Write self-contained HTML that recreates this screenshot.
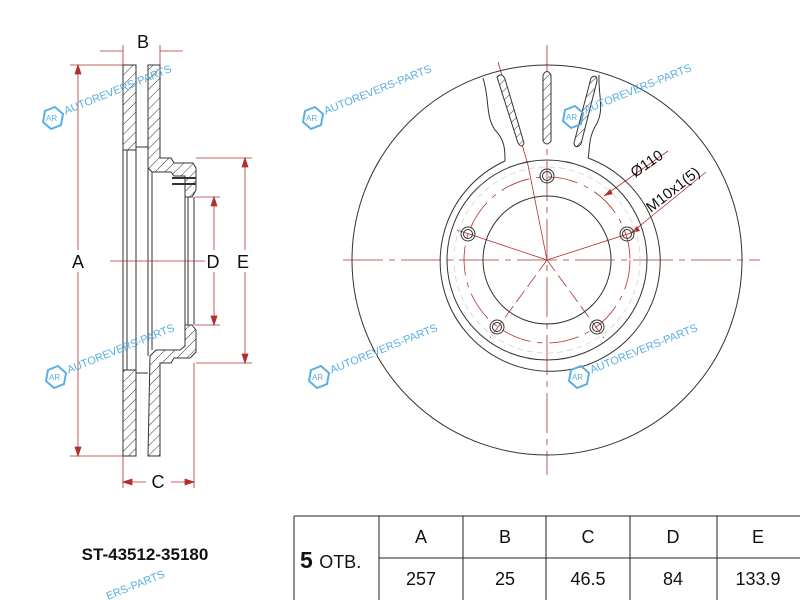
<!DOCTYPE html>
<html><head><meta charset="utf-8"><style>
html,body{margin:0;padding:0;background:#fff;}
svg{display:block;}
</style></head><body>
<svg width="800" height="600" viewBox="0 0 800 600" xmlns="http://www.w3.org/2000/svg" font-family="Liberation Sans, sans-serif">
<defs>
<pattern id="h" width="7" height="7" patternUnits="userSpaceOnUse" patternTransform="rotate(45)">
<rect width="7" height="7" fill="#fff"/><line x1="0" y1="0" x2="0" y2="7" stroke="#333" stroke-width="1"/>
</pattern>
<g id="wm">
<polygon points="-7,-7 3,-11 11,-4 9,7 -1,11 -9,4" fill="none" stroke="#5aaee0" stroke-width="2"/>
<text x="-6" y="3" font-size="8" fill="#5aaee0">AR</text>
<text x="14" y="2" font-size="11" fill="#5aaee0" transform="rotate(-22)">AUTOREVERS-PARTS</text>
</g>
</defs>

<!-- SIDE VIEW -->
<g stroke="#333" stroke-width="1" fill="none">
<rect x="123" y="65" width="13" height="85" fill="url(#h)"/>
<rect x="123" y="370" width="13" height="86" fill="url(#h)"/>
<line x1="123" y1="150" x2="123" y2="370"/>
<line x1="127" y1="150" x2="127" y2="370"/>
<line x1="136" y1="150" x2="136" y2="370"/>
<line x1="136" y1="147" x2="148" y2="147"/>
<line x1="136" y1="373" x2="148" y2="373"/>
<path d="M148,65 H160 V158 H171 L174,163 H193 L196,168 V190 L192,197 H185 V176 L174,176 L171,172 H152 L148,168 Z" fill="url(#h)"/>
<line x1="172" y1="178" x2="196" y2="178" stroke-width="2"/>
<line x1="172" y1="184" x2="196" y2="184" stroke-width="2"/>
<path d="M148,456 H160 V363 H171 L174,358 H190 L196,352 V330 L192,325 H185 V346 L180,350 H156 L150,356 Z" fill="url(#h)"/>
<line x1="148" y1="168" x2="148" y2="356"/>
<line x1="152" y1="172" x2="152" y2="350"/>
<line x1="185" y1="197" x2="185" y2="325"/>
<line x1="188" y1="197" x2="188" y2="325"/>
<line x1="194" y1="197" x2="194" y2="325"/>
</g>
<g stroke="#b03030" stroke-width="0.8" fill="#b03030">
<line x1="110" y1="261" x2="205" y2="261"/>
<line x1="100" y1="51" x2="123" y2="51"/><line x1="160" y1="51" x2="183" y2="51"/>
<line x1="123" y1="45" x2="123" y2="65"/><line x1="160" y1="45" x2="160" y2="65"/>
<line x1="70" y1="65" x2="123" y2="65"/><line x1="70" y1="456" x2="123" y2="456"/>
<line x1="78" y1="65" x2="78" y2="250"/><line x1="78" y1="272" x2="78" y2="456"/>
<polygon points="78,65 75,74 81,74"/><polygon points="78,456 75,447 81,447"/>
<line x1="123" y1="456" x2="123" y2="488"/><line x1="194" y1="363" x2="194" y2="488"/>
<line x1="123" y1="482" x2="146" y2="482"/><line x1="171" y1="482" x2="194" y2="482"/>
<polygon points="123,482 132,479 132,485"/><polygon points="194,482 185,479 185,485"/>
<line x1="195" y1="197" x2="220" y2="197"/><line x1="195" y1="325" x2="220" y2="325"/>
<line x1="214" y1="197" x2="214" y2="250"/><line x1="214" y1="272" x2="214" y2="325"/>
<polygon points="214,197 211,206 217,206"/><polygon points="214,325 211,316 217,316"/>
<line x1="196" y1="158" x2="252" y2="158"/><line x1="196" y1="363" x2="252" y2="363"/>
<line x1="245" y1="158" x2="245" y2="250"/><line x1="245" y1="272" x2="245" y2="363"/>
<polygon points="245,158 242,167 248,167"/><polygon points="245,363 242,354 248,354"/>
</g>
<g font-size="18" fill="#111" text-anchor="middle">
<text x="143" y="48">B</text><text x="78" y="268">A</text><text x="158" y="488">C</text>
<text x="213" y="268">D</text><text x="243" y="268">E</text>
</g>

<!-- FRONT VIEW -->
<g stroke="#b03030" stroke-width="0.8" fill="none">
<line x1="547" y1="45" x2="547" y2="475" stroke-dasharray="40,6,6,6"/>
<line x1="343" y1="260" x2="760" y2="260" stroke-dasharray="40,6,6,6"/>
<line x1="498" y1="62" x2="528" y2="165"/>
<line x1="528" y1="165" x2="547" y2="260"/>
<line x1="547" y1="260" x2="457" y2="230"/>
<line x1="547" y1="260" x2="637" y2="231"/>
<line x1="547" y1="260" x2="490" y2="338" stroke-dasharray="14,5"/>
<line x1="547" y1="260" x2="604" y2="338" stroke-dasharray="14,5"/>
<circle cx="547" cy="260" r="83" stroke-dasharray="30,7,5,7"/>
<line x1="604" y1="196" x2="668" y2="151"/>
<line x1="631" y1="233" x2="706" y2="172"/>
</g>
<polygon points="604,196 610,189 613,194" fill="#b03030"/>
<polygon points="631,233 637,226 640,231" fill="#b03030"/>
<g stroke="#ccc" stroke-width="0.7" fill="none"><circle cx="547" cy="260" r="93" stroke-dasharray="6,4"/></g>
<g stroke="#333" stroke-width="1" fill="none">
<circle cx="547" cy="260" r="195"/>
<circle cx="547" cy="260" r="64"/>
<circle cx="547" cy="260" r="100"/>
<path d="M505,161 A110,110 0 1 0 588,158"/>
<path d="M483,78 C490,100 485,115 495,130 C505,140 505,150 505,161"/>
<path d="M599,75 C598,95 605,110 596,125 C588,138 590,150 588,158"/>
<path d="M497,77 Q502,72 505,79 L524,143 Q522,149 518,143 Z" fill="url(#h)"/>
<path d="M543,75 Q547,68 551,75 V141 Q547,147 543,141 Z" fill="url(#h)"/>
<path d="M591,78 Q597,73 597,81 L581,144 Q575,150 574,143 Z" fill="url(#h)"/>
<circle cx="547" cy="176" r="7"/><circle cx="547" cy="176" r="4.5"/>
<circle cx="468" cy="234" r="7"/><circle cx="468" cy="234" r="4.5"/>
<circle cx="627" cy="234" r="7"/><circle cx="627" cy="234" r="4.5"/>
<circle cx="497" cy="327" r="7"/><circle cx="497" cy="327" r="4.5"/>
<circle cx="597" cy="327" r="7"/><circle cx="597" cy="327" r="4.5"/>
</g>
<text x="635" y="178" font-size="15" fill="#111" transform="rotate(-35 635 178)">Ø110</text>
<text x="651" y="213" font-size="15" fill="#111" transform="rotate(-38 651 213)">M10x1(5)</text>

<use href="#wm" x="52" y="118"/><use href="#wm" x="312" y="118"/><use href="#wm" x="572" y="117"/>
<use href="#wm" x="55" y="377"/><use href="#wm" x="318" y="377"/><use href="#wm" x="578" y="377"/>
<text x="108" y="600" font-size="11" fill="#5aaee0" transform="rotate(-22 108 600)">ERS-PARTS</text>

<text x="145" y="560" font-size="17" font-weight="bold" text-anchor="middle" fill="#111">ST-43512-35180</text>
<g stroke="#222" stroke-width="1" fill="none">
<line x1="294" y1="516" x2="800" y2="516"/>
<line x1="379" y1="558" x2="800" y2="558"/>
<line x1="294" y1="516" x2="294" y2="600"/>
<line x1="379" y1="516" x2="379" y2="600"/>
<line x1="463" y1="516" x2="463" y2="600"/>
<line x1="546" y1="516" x2="546" y2="600"/>
<line x1="630" y1="516" x2="630" y2="600"/>
<line x1="717" y1="516" x2="717" y2="600"/>
</g>
<text x="300" y="568" font-size="23" font-weight="bold" fill="#111">5 <tspan font-size="18" font-weight="normal">ОТВ.</tspan></text>
<g font-size="18" fill="#111" text-anchor="middle">
<text x="421" y="543">A</text><text x="505" y="543">B</text><text x="588" y="543">C</text><text x="673" y="543">D</text><text x="758" y="543">E</text>
<text x="421" y="585">257</text><text x="505" y="585">25</text><text x="588" y="585">46.5</text><text x="673" y="585">84</text><text x="758" y="585">133.9</text>
</g>
</svg>
</body></html>
